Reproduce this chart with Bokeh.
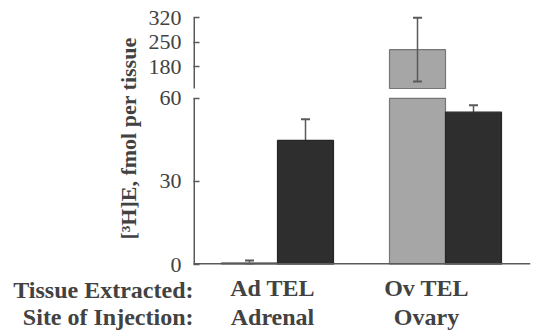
import numpy as np
from bokeh.plotting import figure
from bokeh.layouts import column
from bokeh.models import Range1d, FixedTicker, Whisker, TeeHead, ColumnDataSource
from bokeh.core.properties import value
from bokeh.embed import file_html
from bokeh.resources import INLINE

# ---------------- data ----------------
tissue = ["Ad TEL", "Ov TEL"]          # tissue extracted
injection = ["Adrenal", "Ovary"]       # site of injection
light_mean = [0.6, 229.0]              # light (stippled) bars
light_err = [0.8, 91.0]
dark_mean = [44.8, 55.0]               # dark bars
dark_err = [7.6, 2.5]
lower_ticks = [0, 30, 60]
upper_ticks = [180, 250, 320]
lower_cut = 60      # top of lower axis segment (break)
upper_cut = 118     # bottom of upper axis segment (break)
row_titles = ["Tissue Extracted:", "Site of Injection:"]

# ---------------- layout / style ----------------
W = 534
H1, H2 = 276, 54
LEFT, RIGHT, BOTTOM, TOP = 193, 4, 12, 12
frame_h = H1 - BOTTOM - TOP
PX_LOW = 2.77            # px per unit, lower segment
PX_UP = 0.35             # px per unit, upper segment
UP_ANCHOR, UP_ANCHOR_PX = 180, 197.7
BAR_PX = 56
FONT = "Liberation Serif"
TXT = "#424242"
AX = "#5a5a5a"
LIGHT, LIGHT_LINE = "#a6a6a6", "#767676"
DARK, DARK_LINE = "#2e2e2e", "#262626"
LABEL_SHIFT = [-5, -19]
ROW_Y = [43, 14]         # row centres (px from bottom of caption strip)

low_range = Range1d(0, frame_h / PX_LOW)
up_start = UP_ANCHOR - UP_ANCHOR_PX / PX_UP
up_range = Range1d(up_start, up_start + frame_h / PX_UP)
x_range = Range1d(0, (W - LEFT - RIGHT) / BAR_PX)

p = figure(width=W, height=H1, x_range=x_range, y_range=low_range,
           output_backend="svg", toolbar_location=None,
           min_border_left=LEFT, min_border_right=RIGHT,
           min_border_top=TOP, min_border_bottom=BOTTOM)
p.extra_y_ranges = {"up": up_range}
p.background_fill_color = "#ffffff"
p.border_fill_color = "#ffffff"
p.outline_line_color = None
p.grid.visible = False
p.xaxis.visible = False

centers = np.arange(len(tissue)) * 3 + 1.5
x_light = centers - 0.5
x_dark = centers + 0.5

# whiskers of the lower segment (drawn beneath the bars)
lo_x, lo_lo, lo_hi = [], [], []
for xs, ms, es in ((x_light, light_mean, light_err), (x_dark, dark_mean, dark_err)):
    for x, m, e in zip(xs, ms, es):
        if m + e <= lower_cut:
            lo_x.append(x); lo_lo.append(m - e); lo_hi.append(m + e)
low_src = ColumnDataSource(dict(x=lo_x, lo=lo_lo, hi=lo_hi))
p.add_layout(Whisker(base="x", lower="lo", upper="hi", source=low_src, dimension="height",
                     line_color=AX, line_width=1.5, level="underlay",
                     upper_head=TeeHead(size=9, line_color=AX, line_width=2),
                     lower_head=TeeHead(size=9, line_color=AX, line_width=2)))

# bars – lower segment
light_low = [min(v, lower_cut) for v in light_mean]
p.vbar(x=x_light, top=light_low, bottom=0, width=1, fill_color=LIGHT,
       line_color=LIGHT_LINE, line_width=1.2)
p.vbar(x=x_dark, top=dark_mean, bottom=0, width=1, fill_color=DARK,
       line_color=DARK_LINE, line_width=1.2)

# bars – upper segment (values above the break)
up_idx = [i for i, v in enumerate(light_mean) if v > lower_cut]
up_src = ColumnDataSource(dict(
    x=[x_light[i] for i in up_idx],
    m=[light_mean[i] for i in up_idx],
    lo=[light_mean[i] - light_err[i] for i in up_idx],
    hi=[light_mean[i] + light_err[i] for i in up_idx],
))
p.vbar(x="x", top="m", bottom=upper_cut, width=1, source=up_src,
       fill_color=LIGHT, line_color=LIGHT_LINE, line_width=1.2, y_range_name="up")
p.add_layout(Whisker(base="x", lower="lo", upper="hi", source=up_src, dimension="height",
                     line_color=AX, line_width=1.5, y_range_name="up", level="annotation",
                     upper_head=TeeHead(size=9, line_color=AX, line_width=2),
                     lower_head=TeeHead(size=9, line_color=AX, line_width=2)))

# broken left axis line and bottom axis line (half of the width is clipped by the frame)
p.segment(x0=[0], y0=[0], x1=[0], y1=[lower_cut], line_color=AX, line_width=3)
p.segment(x0=[0], y0=[upper_cut], x1=[0], y1=[upper_ticks[-1]], line_color=AX,
          line_width=3, y_range_name="up")
p.segment(x0=[x_range.start], y0=[0], x1=[x_range.end], y1=[0], line_color=AX, line_width=3)

# y axis ticks (upper values mapped onto the lower range)
def to_low(v):
    return (v - up_range.start) / (up_range.end - up_range.start) * (low_range.end - low_range.start)

tick_pos = [float(t) for t in lower_ticks] + [float(to_low(t)) for t in upper_ticks]
tick_lab = [str(t) for t in lower_ticks] + [str(t) for t in upper_ticks]
ya = p.yaxis[0]
ya.ticker = FixedTicker(ticks=tick_pos)
ya.major_label_overrides = dict(zip(tick_pos, tick_lab))
ya.axis_line_color = None
ya.major_tick_in = 6
ya.major_tick_out = 0
ya.major_tick_line_color = AX
ya.major_tick_line_width = 1.5
ya.minor_tick_line_color = None
ya.major_label_standoff = 12
ya.major_label_text_font = FONT
ya.major_label_text_font_size = "22px"
ya.major_label_text_color = TXT
ya.axis_label = "[³H]E, fmol per tissue"
ya.axis_label_text_font = FONT
ya.axis_label_text_font_size = "22px"
ya.axis_label_text_font_style = "bold"
ya.axis_label_text_color = TXT
ya.axis_label_standoff = 5

# ---------------- caption strip below the chart ----------------
p2 = figure(width=W, height=H2, output_backend="svg", toolbar_location=None,
            x_range=x_range, y_range=Range1d(0, H2),
            min_border_left=LEFT, min_border_right=RIGHT,
            min_border_top=0, min_border_bottom=0)
p2.xaxis.visible = False
p2.grid.visible = False
p2.outline_line_color = None
p2.background_fill_color = "#ffffff"
p2.border_fill_color = "#ffffff"

ya2 = p2.yaxis[0]
ya2.ticker = FixedTicker(ticks=ROW_Y)
ya2.major_label_overrides = dict(zip(ROW_Y, row_titles))
ya2.axis_line_color = None
ya2.major_tick_line_color = None
ya2.minor_tick_line_color = None
ya2.major_tick_out = 0
ya2.major_tick_in = 0
ya2.major_label_standoff = 0
ya2.major_label_text_font = FONT
ya2.major_label_text_font_size = "24px"
ya2.major_label_text_font_style = "bold"
ya2.major_label_text_color = TXT

cap = ColumnDataSource(dict(
    x=list(centers) * 2,
    y=[ROW_Y[0]] * len(tissue) + [ROW_Y[1]] * len(injection),
    t=tissue + injection,
    dx=LABEL_SHIFT * 2,
))
p2.text(x="x", y="y", text="t", x_offset="dx", source=cap, text_align="center",
        text_baseline="middle", text_font=value(FONT), text_font_size="24px",
        text_font_style="bold", text_color=TXT)

open("out.html", "w").write(file_html(column(p, p2), INLINE))
